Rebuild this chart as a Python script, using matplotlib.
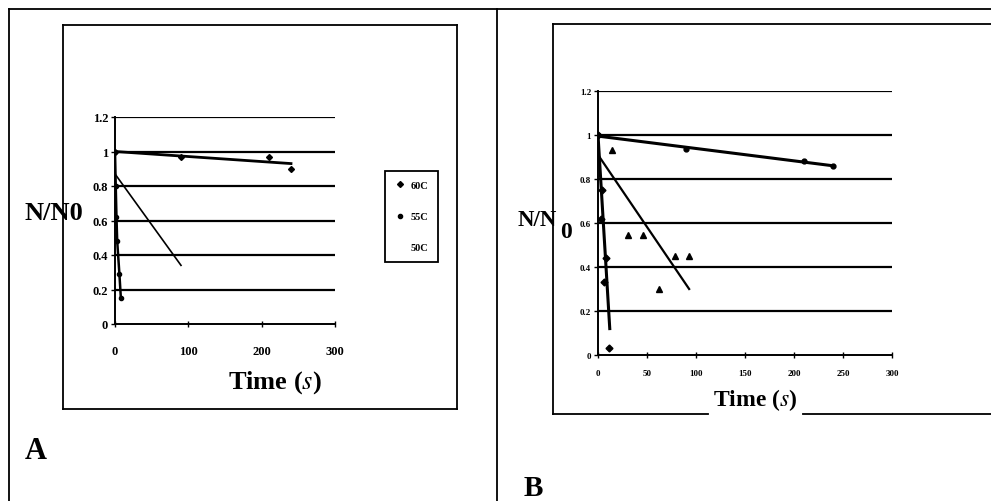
import numpy as np
import matplotlib
matplotlib.use('Agg')
import matplotlib.pyplot as plt
from matplotlib.lines import Line2D

# panel A data (scanned values, approximate)
tA_slow = [0, 90, 210, 240]
yA_slow = [1.0, 0.97, 0.97, 0.90]
fitA_slow_t = [0, 240]
fitA_slow_y = [1.0, 0.93]

fitA_mid_t = [0, 90]
fitA_mid_y = [0.87, 0.34]

tA_fast = [0, 1, 2, 3, 6, 8]
yA_fast = [1.0, 0.80, 0.62, 0.48, 0.29, 0.15]

legend_labels = ['60C', '55C', '50C']

# panel B data
tB_slow = [0, 90, 210, 240]
yB_slow = [1.0, 0.935, 0.88, 0.86]
fitB_slow_t = [0, 240]
fitB_slow_y = [0.995, 0.86]

tB_mid = [14, 31, 46, 62, 79, 93]
yB_mid = [0.93, 0.545, 0.545, 0.30, 0.45, 0.45]
fitB_mid_t = [0, 93]
fitB_mid_y = [0.91, 0.30]

tB_fast = [0, 3, 4, 6, 8, 11]
yB_fast = [1.0, 0.62, 0.75, 0.33, 0.44, 0.03]
fitB_fast_t = [0, 12]
fitB_fast_y = [1.0, 0.12]

yticks = [0, 0.2, 0.4, 0.6, 0.8, 1.0, 1.2]
ytick_labels = ['0', '0.2', '0.4', '0.6', '0.8', '1', '1.2']
xticksA = [0, 100, 200, 300]
xticksB = [0, 50, 100, 150, 200, 250, 300]

W, H = 991, 502
SERIF = ['Liberation Serif', 'DejaVu Serif']
plt.rcParams['mathtext.fontset'] = 'stix'


def fx(px):
    return px / W


def fy(py):
    return 1 - py / H


def axes_px(fig, left, top, right, bottom):
    return fig.add_axes([fx(left), fy(bottom), fx(right) - fx(left), fy(top) - fy(bottom)])


def hline(fig, x0, x1, y, lw=1.3):
    fig.add_artist(Line2D([fx(x0), fx(x1)], [fy(y), fy(y)], color='black', lw=lw))


def vline(fig, x, y0, y1, lw=1.3):
    fig.add_artist(Line2D([fx(x), fx(x)], [fy(y0), fy(y1)], color='black', lw=lw))


def style_axes(ax, xticks, xmax, fs, xpad):
    ax.set_xlim(0, xmax)
    ax.set_ylim(0, 1.2)
    ax.set_yticks(yticks)
    ax.set_yticklabels(ytick_labels)
    ax.set_xticks(xticks)
    for y in yticks[1:]:
        ax.axhline(y, color='black', lw=1.6, zorder=1)
    for s in ['top', 'right']:
        ax.spines[s].set_visible(False)
    for s in ['left', 'bottom']:
        ax.spines[s].set_linewidth(1.4)
    ax.tick_params(axis='y', direction='out', length=3, width=1, pad=2)
    ax.tick_params(axis='x', direction='inout', length=4, width=1, pad=xpad)
    for lab in ax.get_xticklabels() + ax.get_yticklabels():
        lab.set_family(SERIF)
        lab.set_fontweight('bold')
        lab.set_fontsize(fs)
    ax.patch.set_alpha(0)


fig = plt.figure(figsize=(W / 100, H / 100), dpi=100)

# outer frames
hline(fig, 9, 991, 10)
vline(fig, 9, 10, 502)
vline(fig, 497, 10, 502)

# inner box A
hline(fig, 63, 457, 26)
hline(fig, 63, 457, 410)
vline(fig, 63, 26, 410)
vline(fig, 457, 26, 410)

# inner box B (bottom edge broken by the label)
hline(fig, 553, 991, 25)
vline(fig, 553, 25, 415)
hline(fig, 553, 708, 415)
hline(fig, 803, 991, 415)

# ---- panel A ----
axA = axes_px(fig, 115, 118, 335, 325)
style_axes(axA, xticksA, 300, 9, 13)
hA1, = axA.plot(tA_slow, yA_slow, 'D', color='black', ms=3, zorder=3)
axA.plot(fitA_slow_t, fitA_slow_y, color='black', lw=2, zorder=3)
axA.plot(fitA_mid_t, fitA_mid_y, color='black', lw=1.2, zorder=3)
hA2, = axA.plot(tA_fast, yA_fast, 'o', color='black', ms=3, zorder=3)
axA.plot(tA_fast, yA_fast, color='black', lw=1.8, zorder=3)
hA3 = Line2D([], [], ls='none', marker='None')
leg = fig.legend([hA1, hA2, hA3], legend_labels, loc='center',
                 bbox_to_anchor=(fx(411.5), fy(217.5)), bbox_transform=fig.transFigure,
                 fancybox=False, edgecolor='black', framealpha=1, handlelength=1.0,
                 handletextpad=0.6, labelspacing=2.1, borderpad=0.9,
                 prop={'family': SERIF, 'weight': 'bold', 'size': 7.5})
leg.get_frame().set_linewidth(1.3)

fig.text(fx(54), fy(213), 'N/N0', family=SERIF, fontweight='bold', fontsize=19,
         ha='center', va='center')
fig.text(fx(275), fy(383), r'Time ($\mathit{s}$)', family=SERIF, fontweight='bold',
         fontsize=19, ha='center', va='center')
fig.text(fx(36), fy(452), 'A', family=SERIF, fontweight='bold', fontsize=22,
         ha='center', va='center')

# ---- panel B ----
axB = axes_px(fig, 598, 92, 892, 356)
style_axes(axB, xticksB, 300, 6.5, 8)
axB.plot(tB_slow, yB_slow, 'o', color='black', ms=3.5, zorder=3)
axB.plot(fitB_slow_t, fitB_slow_y, color='black', lw=2.2, zorder=3)
axB.plot(tB_mid, yB_mid, '^', color='black', ms=4.5, zorder=3)
axB.plot(fitB_mid_t, fitB_mid_y, color='black', lw=1.6, zorder=3)
axB.plot(tB_fast, yB_fast, 'D', color='black', ms=3.5, zorder=3)
axB.plot(fitB_fast_t, fitB_fast_y, color='black', lw=2.2, zorder=3)

fig.text(fx(537), fy(220), 'N/N', family=SERIF, fontweight='bold',
         fontsize=16.5, ha='center', va='center')
fig.text(fx(566), fy(232), '0', family=SERIF, fontweight='bold',
         fontsize=17, ha='center', va='center')
fig.text(fx(755), fy(400), r'Time ($\mathit{s}$)', family=SERIF, fontweight='bold',
         fontsize=17, ha='center', va='center')
fig.text(fx(533), fy(489), 'B', family=SERIF, fontweight='bold', fontsize=21,
         ha='center', va='center')

fig.savefig('out.png', dpi=100, facecolor='white')
